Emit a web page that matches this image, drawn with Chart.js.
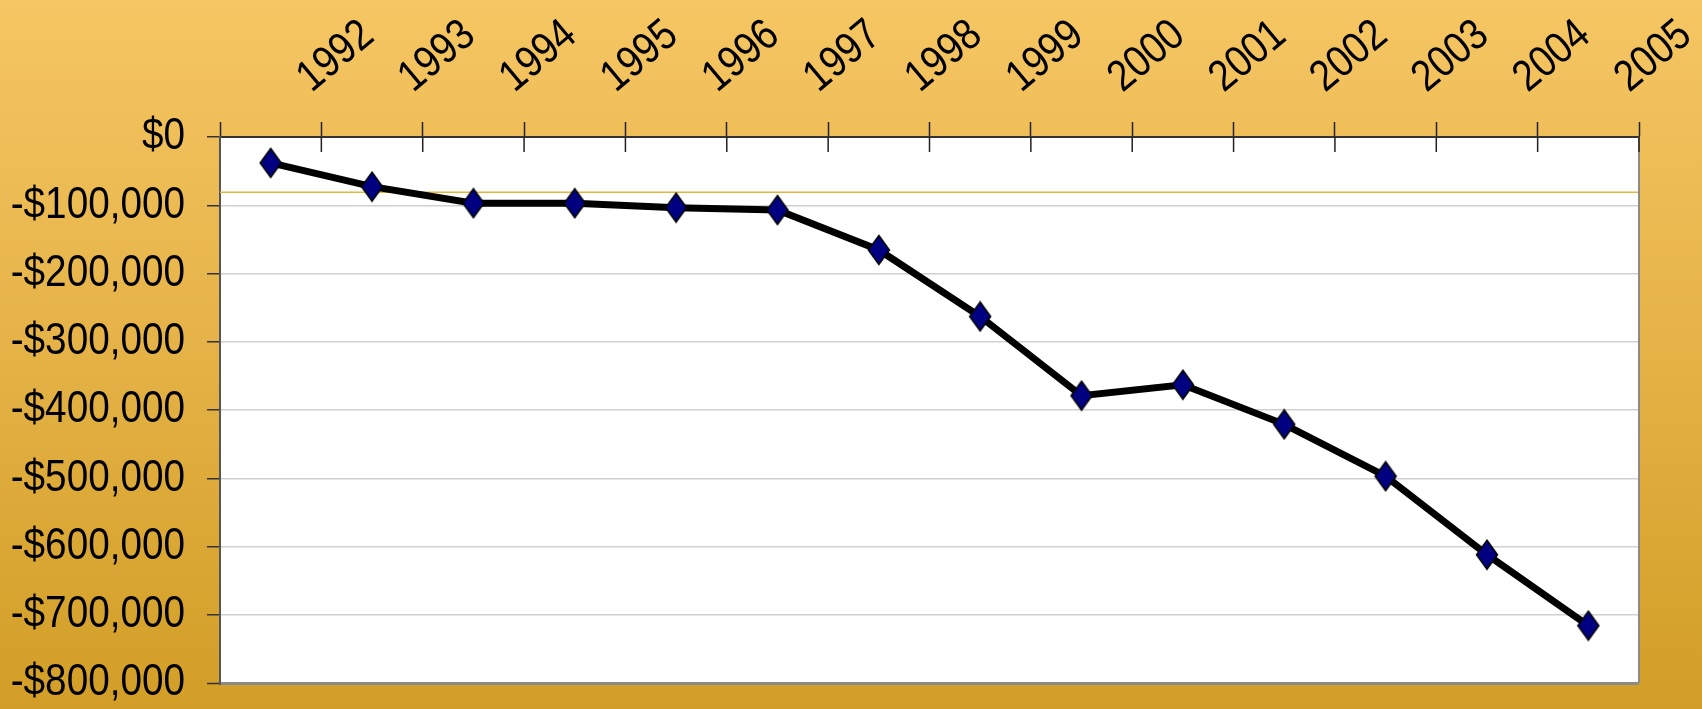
<!DOCTYPE html>
<html>
<head>
<meta charset="utf-8">
<script src="https://cdn.jsdelivr.net/npm/chart.js@4/dist/chart.umd.min.js"></script>
<style>
  html, body { margin: 0; padding: 0; background: #d29e27; }
  canvas { display: block; }
</style>
</head>
<body>
<canvas id="chart" width="1702" height="709"></canvas>
<script>
const years = ['1992', '1993', '1994', '1995', '1996', '1997', '1998', '1999', '2000', '2001', '2002', '2003', '2004', '2005'];
const balance = [-38000, -72800, -97000, -97000, -103500, -107000, -165500, -263000, -379000, -363000, -421000, -497000, -612000, -716000];
const yMin = -800000;
const yMax = 0;
const yStep = 100000;
const refLine = -81000;

const fontFamily = '"Liberation Sans", Arial, sans-serif';
const squeeze = 0.86; // el original usa una letra estrecha

const money = v => v === 0 ? '$0' : (v < 0 ? '-$' : '$') + Math.abs(v).toLocaleString('en-US');

const canvas = document.getElementById('chart');
const chartCtx = canvas.getContext('2d');

// texto estrecho: escalar en horizontal alrededor del punto de anclaje //
const rawFillText = chartCtx.fillText.bind(chartCtx);
chartCtx.fillText = function (text, x, y, maxWidth) {
    this.save();
    this.translate(x, y);
    this.scale(squeeze, 1);
    if (maxWidth === undefined) rawFillText(text, 0, 0);
    else rawFillText(text, 0, 0, maxWidth / squeeze);
    this.restore();
};

// marcador rombo (un poco mas alto que ancho) //
const diamond = document.createElement('canvas');
diamond.width = 24;
diamond.height = 32;
(() => {
    const d = diamond.getContext('2d');
    d.beginPath();
    d.moveTo(12, 1.5);
    d.lineTo(22.5, 16);
    d.lineTo(12, 30.5);
    d.lineTo(1.5, 16);
    d.closePath();
    d.fillStyle = '#000080';
    d.fill();
    d.lineWidth = 1.5;
    d.strokeStyle = '#000';
    d.stroke();
})();

// fondo degradado + area blanca //
const backdrop = {
    id: 'backdrop',
    beforeDraw(c) {
        const { ctx, chartArea: a, width, height } = c;
        const g = ctx.createLinearGradient(0, 0, 0, height);
        g.addColorStop(0, '#f6c664');
        g.addColorStop(1, '#d29e27');
        ctx.save();
        ctx.fillStyle = g;
        ctx.fillRect(0, 0, width, height);
        ctx.fillStyle = '#fff';
        ctx.fillRect(a.left, a.top, a.right - a.left, a.bottom - a.top);
        ctx.restore();
    },
    beforeDatasetsDraw(c) {
        const { ctx, chartArea: a } = c;
        const xs = c.scales.x;
        const ys = c.scales.y;
        ctx.save();
        // linea naranja
        const ry = ys.getPixelForValue(refLine);
        ctx.strokeStyle = '#eab33c';
        ctx.lineWidth = 1.5;
        ctx.beginPath();
        ctx.moveTo(a.left, ry);
        ctx.lineTo(a.right, ry);
        ctx.stroke();
        // borde derecho
        ctx.strokeStyle = '#8a8a8a';
        ctx.lineWidth = 2;
        ctx.beginPath();
        ctx.moveTo(a.right, a.top);
        ctx.lineTo(a.right, a.bottom);
        ctx.stroke();
        // marcas hacia dentro del eje x
        const half = (xs.getPixelForTick(1) - xs.getPixelForTick(0)) / 2;
        ctx.strokeStyle = '#222';
        ctx.lineWidth = 1.5;
        for (let i = 0; i < years.length; i++) {
            const px = xs.getPixelForTick(i) + half;
            ctx.beginPath();
            ctx.moveTo(px, a.top);
            ctx.lineTo(px, a.top + 15);
            ctx.stroke();
        }
        ctx.restore();
    }
};

new Chart(chartCtx, {
    type: 'line',
    data: {
        labels: years,
        datasets: [
            {
                data: balance,
                borderColor: '#000',
                borderWidth: 7,
                tension: 0,
                pointStyle: diamond,
                clip: false
            }
        ]
    },
    options: {
        responsive: false,
        animation: false,
        layout: { padding: { top: 0, left: 0, right: 63, bottom: 26 } },
        plugins: {
            legend: { display: false },
            tooltip: { enabled: false }
        },
        scales: {
            x: {
                position: 'top',
                offset: true,
                afterFit(s) { s.height = 137; s.paddingLeft = 0; s.paddingRight = 0; },
                grid: { offset: true, drawOnChartArea: false, tickLength: 15, tickColor: '#222', tickWidth: 1.5 },
                border: { color: '#333', width: 2 },
                ticks: {
                    autoSkip: false,
                    minRotation: 40,
                    maxRotation: 40,
                    labelOffset: 67,
                    padding: 18,
                    color: '#000',
                    font: { family: fontFamily, size: 44 }
                }
            },
            y: {
                min: yMin,
                max: yMax,
                afterFit(s) { s.width = 220; s.paddingTop = 0; s.paddingBottom = 0; },
                grid: {
                    color: ctx => ctx.tick.value === yMin ? '#8a8a8a' : '#d0d0d0',
                    lineWidth: ctx => ctx.tick.value === yMin ? 3 : 1.5,
                    tickLength: 13,
                    tickColor: '#333',
                    tickWidth: 1.5
                },
                border: { color: '#555', width: 2 },
                ticks: {
                    stepSize: yStep,
                    padding: 22,
                    color: '#000',
                    font: { family: fontFamily, size: 45 },
                    callback: v => money(v)
                }
            }
        }
    },
    plugins: [backdrop]
});
</script>
</body>
</html>
